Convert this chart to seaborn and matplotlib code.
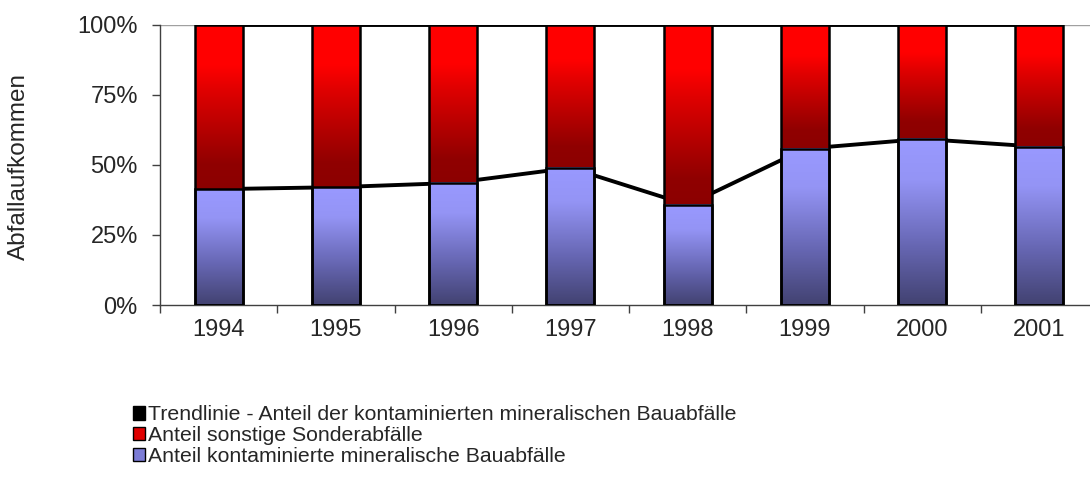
import numpy as np
import matplotlib
matplotlib.use('Agg')
import matplotlib.pyplot as plt
import seaborn as sns
from matplotlib.colors import LinearSegmentedColormap
from matplotlib.patches import Patch

# values (percent of total waste)
years = ['1994', '1995', '1996', '1997', '1998', '1999', '2000', '2001']
mineral = [41.3, 42.0, 43.5, 48.9, 35.7, 55.7, 59.2, 56.4]
total = [100, 100, 100, 100, 100, 100, 100, 100]
yticks = [0, 25, 50, 75, 100]
legend_labels = ['Trendlinie - Anteil der kontaminierten mineralischen Bauabfälle',
                 'Anteil sonstige Sonderabfälle',
                 'Anteil kontaminierte mineralische Bauabfälle']

sns.set_style('white')
plt.rcParams['font.family'] = ['Liberation Sans', 'DejaVu Sans']

blue_cmap = LinearSegmentedColormap.from_list(
    'blue', [(0, '#424271'), (0.35, '#6666b2'), (0.75, '#9494f5'), (1, '#9999ff')])
red_cmap = LinearSegmentedColormap.from_list(
    'red', [(0, '#8c0000'), (0.15, '#900000'), (0.6, '#e00000'), (0.75, '#ff0000'), (1, '#ff0000')])
grad = np.linspace(0, 1, 256).reshape(-1, 1)

fig = plt.figure(figsize=(10.9, 4.79), dpi=100)
ax = fig.add_axes([160 / 1090, 174 / 479, 938 / 1090, 280.5 / 479])

# stacked bars: full 100% (red) first, then the mineral share (blue) on top
sns.barplot(x=years, y=total, color='red', width=0.41, ax=ax)
sns.barplot(x=years, y=mineral, color='blue', width=0.41, ax=ax)

patches = list(ax.patches)
for i, p in enumerate(patches):
    x0, w = p.get_x(), p.get_width()
    if i < len(years):
        y0, y1, cmap = mineral[i], total[i], red_cmap
    else:
        y0, y1, cmap = 0, mineral[i - len(years)], blue_cmap
    ax.imshow(grad, cmap=cmap, origin='lower', aspect='auto',
              extent=[x0, x0 + w, y0, y1], zorder=2)
    p.set_facecolor('none')
    p.set_edgecolor('black')
    p.set_linewidth(1.8)
    p.set_zorder(3)

# trend lines (behind the bars)
pos = np.arange(len(years))
sns.lineplot(x=pos, y=mineral, color='black', linewidth=2.8, ax=ax, zorder=1.5)
sns.lineplot(x=pos, y=total, color='black', linewidth=2.8, ax=ax, zorder=1.5)
ax.axhline(100, color='#a0a0a0', linewidth=1, zorder=1)

ax.set_xlim(-0.5, 7.5)
ax.set_ylim(0, 100)
ax.set_xlabel('')
ax.set_ylabel('')

ax.set_xticks(np.arange(-0.5, 8, 1))
ax.set_xticklabels([])
ax.set_xticks(pos, minor=True)
ax.set_xticklabels(years, minor=True)
ax.tick_params(axis='x', which='major', direction='out', length=6, width=1, color='#404040', bottom=True)
ax.tick_params(axis='x', which='minor', length=0, pad=10, labelsize=17)

ax.set_yticks(yticks)
ax.set_yticklabels([f'{v}%' for v in yticks])
ax.tick_params(axis='y', direction='out', length=6, width=1, color='#404040', left=True, pad=10, labelsize=17)

for side in ['top', 'right']:
    ax.spines[side].set_visible(False)
for side in ['left', 'bottom']:
    ax.spines[side].set_color('#404040')
    ax.spines[side].set_linewidth(1)

fig.text(19 / 1090, 1 - 166 / 479, 'Abfallaufkommen', rotation=90,
         ha='center', va='center', fontsize=17.5)

handles = [Patch(facecolor='black', edgecolor='black'),
           Patch(facecolor='#e00000', edgecolor='black'),
           Patch(facecolor='#7c7cd6', edgecolor='black')]
fig.legend(handles, legend_labels, loc='upper left',
           bbox_to_anchor=(124 / 1090, 1 - 397 / 479), frameon=False,
           fontsize=15.3, handlelength=0.6, handleheight=0.6,
           handletextpad=0.12, labelspacing=0.08, borderaxespad=0)

fig.savefig('out.png', dpi=100)
